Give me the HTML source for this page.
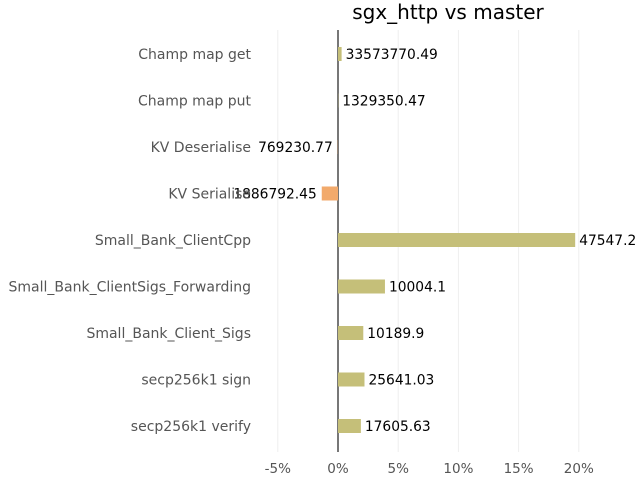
<!DOCTYPE html>
<html><head><meta charset="utf-8"><style>
body{margin:0;background:#fff}
svg{display:block;font-family:"DejaVu Sans","Liberation Sans",sans-serif}
</style></head><body>
<svg id="chart" width="640" height="480">
<text x="448" y="19" text-anchor="middle" font-size="20" fill="#000">sgx_http vs master</text>
<g id="grid"></g><g id="bars"></g><g id="labels"></g><g id="ticks"></g>
</svg>
<script>
const categories=["Champ map get","Champ map put","KV Deserialise","KV Serialise","Small_Bank_ClientCpp","Small_Bank_ClientSigs_Forwarding","Small_Bank_Client_Sigs","secp256k1 sign","secp256k1 verify"];
const values=[0.3,0.02,-0.02,-1.35,19.7,3.9,2.1,2.2,1.9];
const valueLabels=["33573770.49","1329350.47","769230.77","1886792.45","47547.2","10004.1","10189.9","25641.03","17605.63"];
const xTicks=[-5,0,5,10,15,20];
const NS="http://www.w3.org/2000/svg";
const x=v=>338+v*12.04;
const y=i=>54+i*46.5;
function mk(tag,attrs,parent,txt){const e=document.createElementNS(NS,tag);for(const k in attrs)e.setAttribute(k,attrs[k]);if(txt!==undefined)e.textContent=txt;document.getElementById(parent).appendChild(e);return e;}
xTicks.forEach(t=>{
  const g=mk('line',{x1:x(t),x2:x(t),y1:30,y2:452,stroke:t===0?'#777':'#eee','stroke-width':t===0?2:1},'grid');
  
  
  const l=mk('text',{x:x(t),y:473,'text-anchor':'middle','font-size':13.5,fill:'#555'},'ticks',t+'%');
  
  
});
categories.forEach((c,i)=>{
  const v=values[i];
  const r=mk('rect',{x:Math.min(x(0),x(v)),y:y(i)-7,width:Math.abs(x(v)-x(0)),height:14,fill:v<0?'#f2aa6c':'#c5bf79'},'bars');
  
  
  const cl=mk('text',{x:251,y:y(i)+5,'text-anchor':'end','font-size':14,fill:'#555'},'ticks',c);
  
  
  const vl=mk('text',{x:v<0?x(v)-5:x(v)+4,y:y(i)+5,'text-anchor':v<0?'end':'start','font-size':13.8,fill:'#000'},'labels',valueLabels[i]);
  
  
});
</script>
</body></html>
